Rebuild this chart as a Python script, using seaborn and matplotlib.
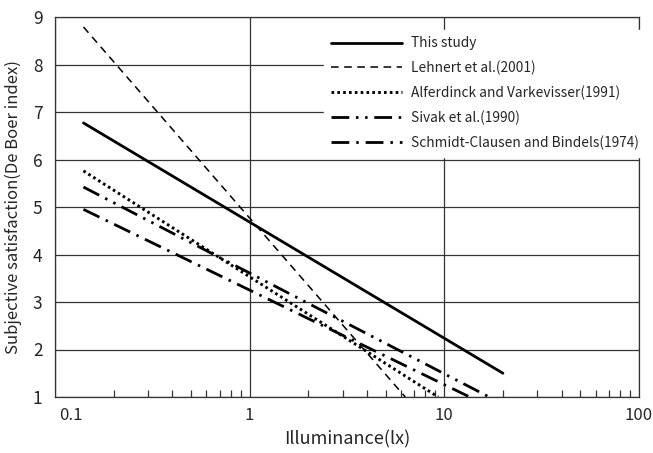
import matplotlib
matplotlib.use("Agg")
import matplotlib.pyplot as plt
import matplotlib.transforms as mtransforms
from matplotlib.ticker import LogLocator, FixedLocator, NullFormatter, FixedFormatter
import seaborn as sns
import pandas as pd

# Fitted satisfaction lines (start and end of each regression line)
this_study_lx = [0.14, 20.0]
this_study_val = [6.77, 1.50]

lehnert_lx = [0.14, 6.3]
lehnert_val = [8.79, 1.00]

alferdinck_lx = [0.14, 9.3]
alferdinck_val = [5.76, 1.00]

sivak_lx = [0.14, 17.0]
sivak_val = [5.42, 1.00]

schmidt_lx = [0.14, 13.5]
schmidt_val = [4.95, 1.00]

series_names = [
    "This study",
    "Lehnert et al.(2001)",
    "Alferdinck and Varkevisser(1991)",
    "Sivak et al.(1990)",
    "Schmidt-Clausen and Bindels(1974)",
]

x_ticks = [0.1, 1, 10, 100]
x_tick_labels = ["0.1", "1", "10", "100"]
y_ticks = [1, 2, 3, 4, 5, 6, 7, 8, 9]

sns.set_theme(style="white")
plt.rcParams["font.family"] = ["Noto Sans CJK KR", "DejaVu Sans"]
plt.rcParams["axes.edgecolor"] = "#333333"

fig = plt.figure(figsize=(6.53, 4.53), dpi=100)
ax = fig.add_axes([55 / 653, 1 - 397 / 453, 584 / 653, 380 / 453])

styles = [
    dict(lw=2.0, ls="-"),
    dict(lw=1.1, ls=(0, (5.0, 3.6))),
    dict(lw=2.1, ls=(0, (0.9, 1.1))),
    dict(lw=2.0, ls=(0, (6.4, 2.4, 0.9, 2.4, 0.9, 2.4))),
    dict(lw=2.0, ls=(0, (6.4, 2.5, 0.9, 2.5))),
]
data = [
    (this_study_lx, this_study_val),
    (lehnert_lx, lehnert_val),
    (alferdinck_lx, alferdinck_val),
    (sivak_lx, sivak_val),
    (schmidt_lx, schmidt_val),
]

for name, (xs, ys), st in zip(series_names, data, styles):
    df = pd.DataFrame({"lx": xs, "val": ys})
    sns.lineplot(data=df, x="lx", y="val", ax=ax, color="black",
                 linewidth=st["lw"], linestyle=st["ls"], label=name,
                 zorder=3)

ax.set_xscale("log")
ax.set_xlim(0.1, 100)
ax.set_ylim(1, 9)

ax.xaxis.set_major_locator(FixedLocator(x_ticks))
ax.xaxis.set_major_formatter(FixedFormatter(x_tick_labels))
ax.xaxis.set_minor_locator(LogLocator(base=10, subs=range(2, 10)))
ax.xaxis.set_minor_formatter(NullFormatter())
ax.set_yticks(y_ticks)

ax.grid(True, which="major", axis="both", color="#333333", lw=0.9)
ax.tick_params(axis="x", which="minor", direction="in", length=5,
               width=0.9, color="#333333", bottom=True)
ax.tick_params(axis="x", which="major", direction="in", length=0, pad=7,
               labelsize=12)
ax.tick_params(axis="y", which="major", length=0, pad=9, labelsize=12.5)
for sp in ax.spines.values():
    sp.set_linewidth(0.9)
    sp.set_color("#333333")

# shift the first x label off the left edge
first = ax.get_xticklabels()[0]
first.set_horizontalalignment("left")
first.set_transform(first.get_transform() +
                    mtransforms.ScaledTranslation(4 / 100, 0, fig.dpi_scale_trans))

ax.set_xlabel("Illuminance(lx)", fontsize=13, labelpad=5)
ax.set_ylabel("Subjective satisfaction(De Boer index)", fontsize=12, labelpad=8)

leg = ax.legend(loc="upper left", bbox_to_anchor=(0.449, 0.985),
                frameon=True, facecolor="white", edgecolor="white",
                framealpha=1, fancybox=False, fontsize=9.9,
                handlelength=5.2, handletextpad=0.6, labelspacing=0.75,
                borderpad=0.5)
leg.set_zorder(5)

fig.savefig("out.png", dpi=100, facecolor="white")
